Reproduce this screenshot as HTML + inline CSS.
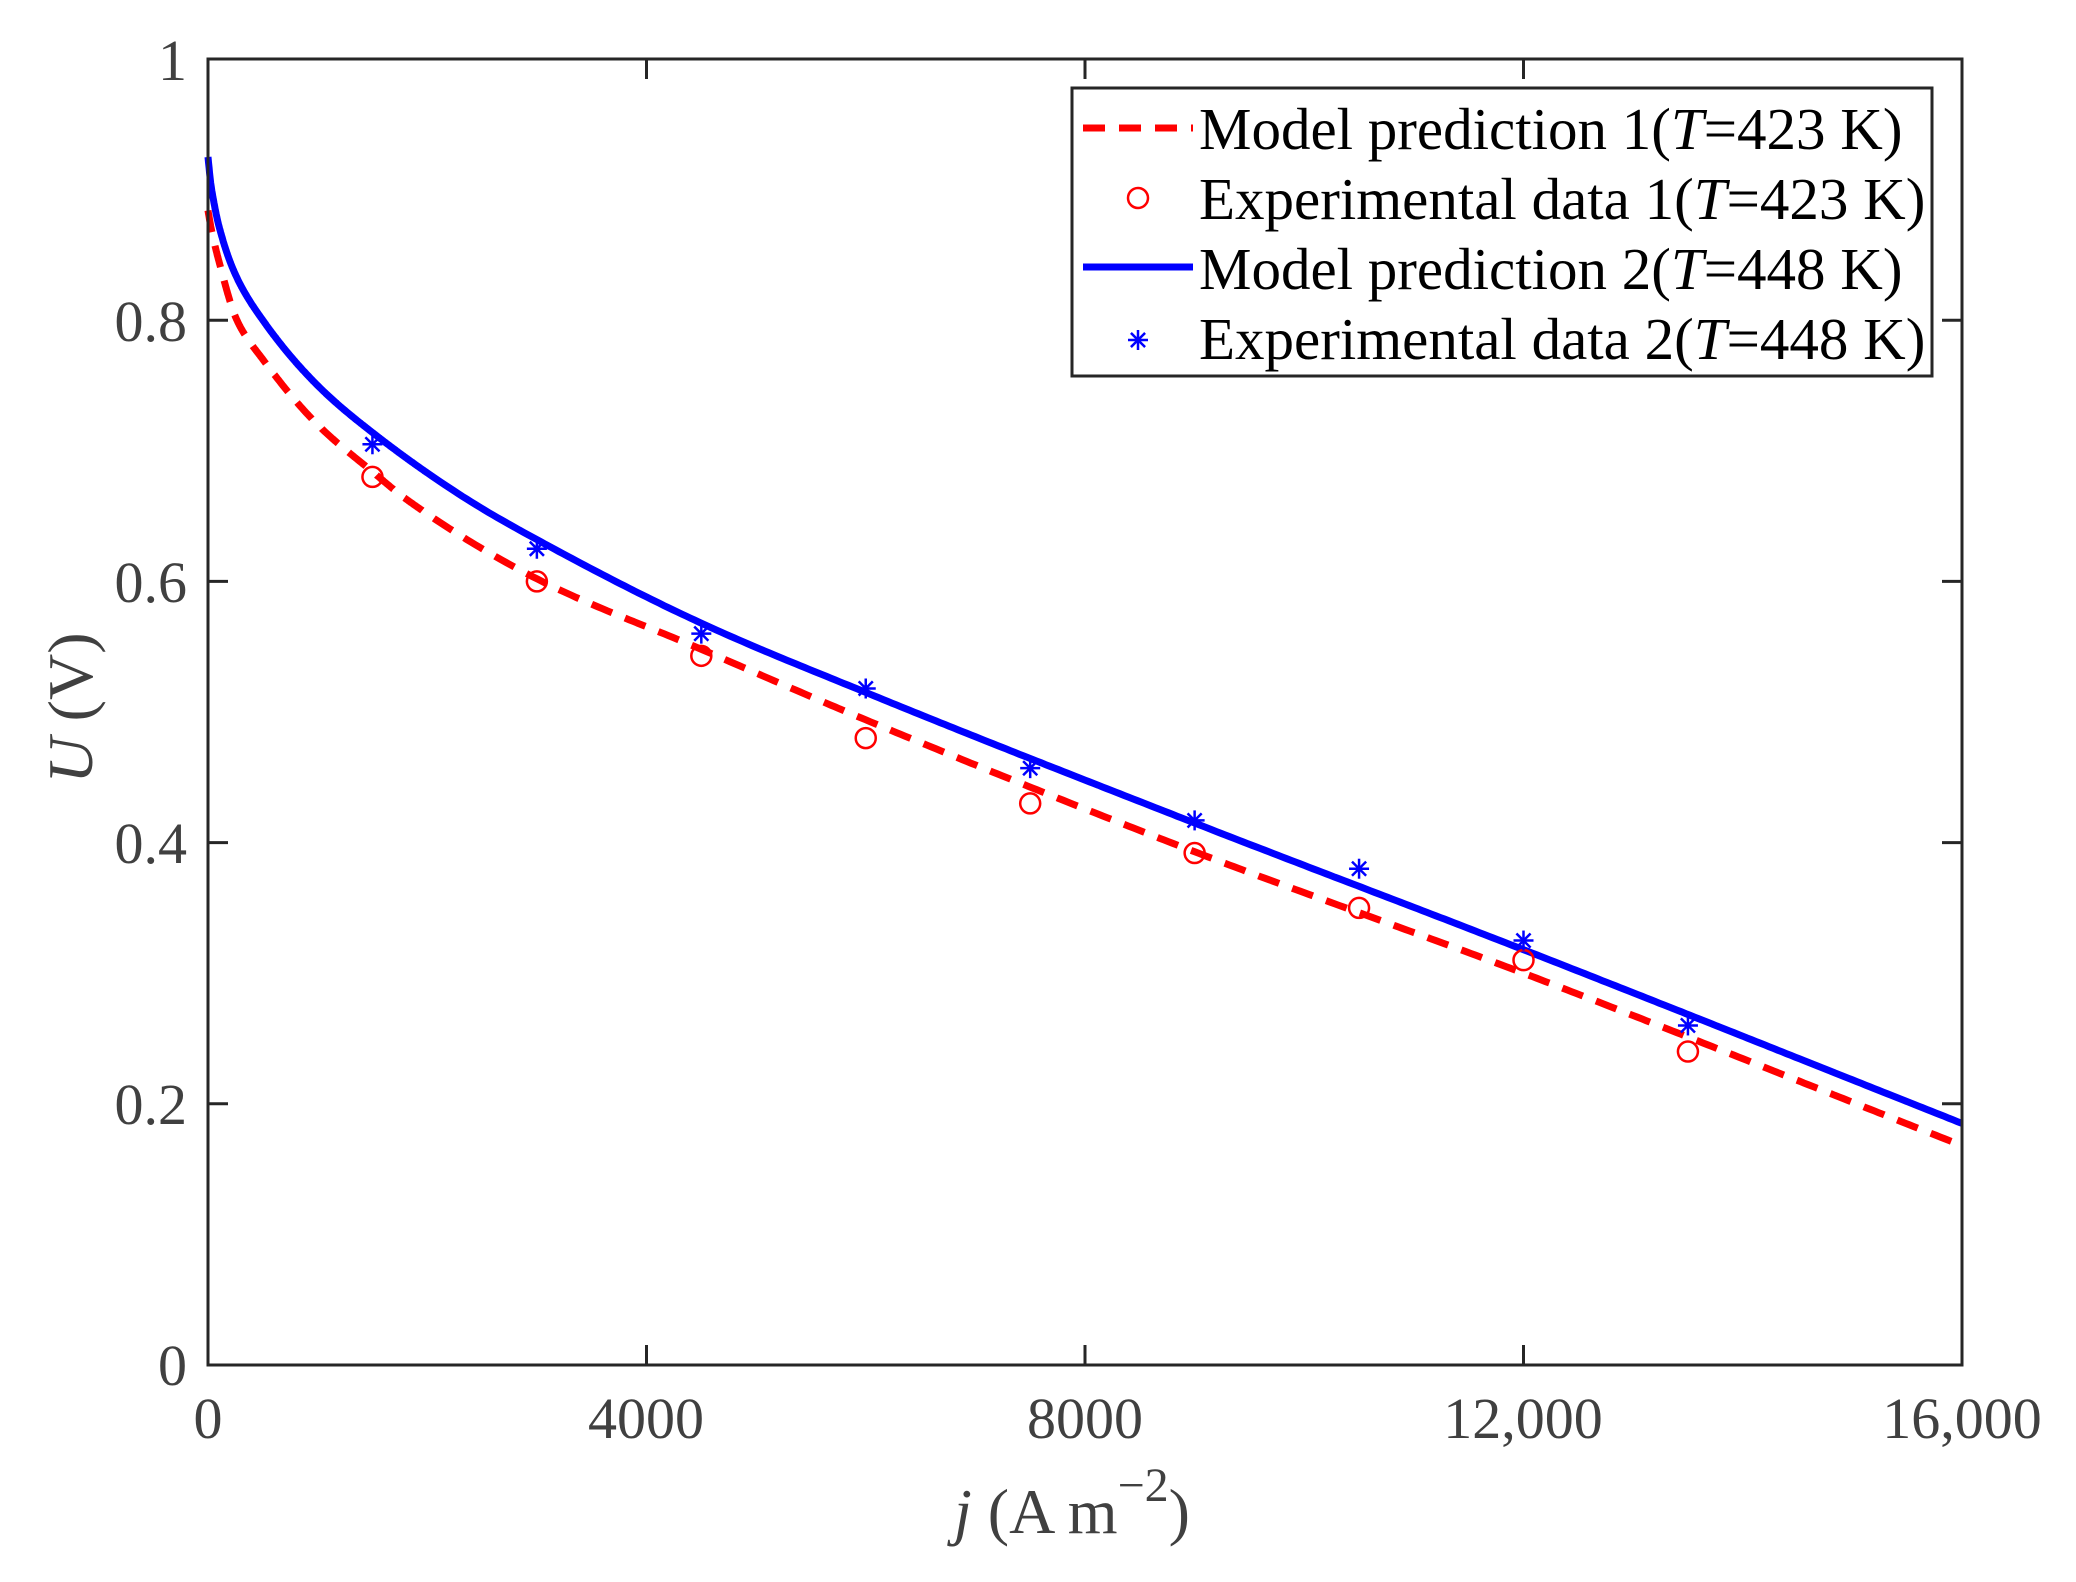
<!DOCTYPE html>
<html><head><meta charset="utf-8"><style>
html,body{margin:0;padding:0;background:#fff;}
svg{display:block;}
text{font-family:"Liberation Serif",serif;}
</style></head><body>
<svg id="s" width="2076" height="1582" viewBox="0 0 2076 1582" xmlns="http://www.w3.org/2000/svg">
<rect width="2076" height="1582" fill="#fff"/>
<g id="plot"></g>
<g stroke="#262626" stroke-width="3" fill="none">
<rect x="208" y="59" width="1754" height="1306"/>
</g>
<g id="ticks" stroke="#262626" stroke-width="3"></g>
<g font-size="58" fill="#404040" text-anchor="end">
<text x="187" y="1385">0</text>
<text x="187" y="1124">0.2</text>
<text x="187" y="863">0.4</text>
<text x="187" y="602">0.6</text>
<text x="187" y="341">0.8</text>
<text x="187" y="80">1</text>
</g>
<g font-size="58" fill="#404040" text-anchor="middle">
<text x="208" y="1438">0</text>
<text x="646" y="1438">4000</text>
<text x="1085" y="1438">8000</text>
<text x="1523" y="1438">12,000</text>
<text x="1962" y="1438">16,000</text>
</g>
<text x="954" y="1533" font-size="64" fill="#404040"><tspan font-style="italic">j</tspan> (A m<tspan dy="-32" font-size="48">−2</tspan><tspan dy="32">)</tspan></text>
<text transform="translate(92,708) rotate(-90)" font-size="64" fill="#404040" text-anchor="middle"><tspan font-style="italic">U</tspan> (V)</text>
<g>
<rect x="1072" y="88" width="860" height="288" fill="#fff" stroke="#262626" stroke-width="3"/>
<line x1="1083" y1="128" x2="1193" y2="128" stroke="#f00" stroke-width="7" stroke-dasharray="22,14"/>
<circle cx="1138" cy="198" r="10" fill="none" stroke="#f00" stroke-width="2.5"/>
<line x1="1083" y1="267" x2="1193" y2="267" stroke="#00f" stroke-width="7"/>
<g id="legstar"></g>
<g font-size="59" fill="#000">
<text x="1199" y="149">Model prediction 1(<tspan font-style="italic">T</tspan>=423 K)</text>
<text x="1199" y="219">Experimental data 1(<tspan font-style="italic">T</tspan>=423 K)</text>
<text x="1199" y="289">Model prediction 2(<tspan font-style="italic">T</tspan>=448 K)</text>
<text x="1199" y="359">Experimental data 2(<tspan font-style="italic">T</tspan>=448 K)</text>
</g>
</g>
</svg>
<script>
var NS="http://www.w3.org/2000/svg";
function X(j){return 208+j/16000*1754;}
function Y(u){return 1365-u*1306;}
function el(p,n,a){var e=document.createElementNS(NS,n);for(var k in a)e.setAttribute(k,a[k]);p.appendChild(e);return e;}
var ticks=document.getElementById('ticks');
[4000,8000,12000].forEach(function(j){var x=X(j);el(ticks,'line',{x1:x,y1:1365,x2:x,y2:1345});el(ticks,'line',{x1:x,y1:59,x2:x,y2:79});});
[0.2,0.4,0.6,0.8].forEach(function(u){var y=Y(u);el(ticks,'line',{x1:208,y1:y,x2:228,y2:y});el(ticks,'line',{x1:1962,y1:y,x2:1942,y2:y});});
function mono(t){var n=t.length,d=[],m=[];for(var i=0;i<n-1;i++)d.push((t[i+1][1]-t[i][1])/(t[i+1][0]-t[i][0]));m[0]=d[0];m[n-1]=d[n-2];for(i=1;i<n-1;i++){if(d[i-1]*d[i]<=0)m[i]=0;else{var h0=t[i][0]-t[i-1][0],h1=t[i+1][0]-t[i][0];var w1=2*h1+h0,w2=h1+2*h0;m[i]=(w1+w2)/(w1/d[i-1]+w2/d[i]);}}
return function(x){var i=0;while(i<n-2&&t[i+1][0]<x)i++;var h=t[i+1][0]-t[i][0],s=(x-t[i][0])/h;var s2=s*s,s3=s2*s;return (2*s3-3*s2+1)*t[i][1]+(s3-2*s2+s)*h*m[i]+(-2*s3+3*s2)*t[i+1][1]+(s3-s2)*h*m[i+1];};}
function interp(t){var f=mono(t),pts=[];for(var j=0;j<=16000;j+=j<2000?5:40){pts.push(X(j).toFixed(1)+','+Y(f(j)).toFixed(1));}return pts.join(' ');}
var blue=[[0,0.925],[25,0.905],[50,0.892],[100,0.872],[250,0.835],[500,0.80],[1000,0.75],[1500,0.714],[2380,0.662],[3000,0.632],[4500,0.568],[6000,0.515],[9000,0.415],[12000,0.318],[16000,0.185]];
var red=[[0,0.884],[25,0.872],[50,0.862],[100,0.845],[264,0.80],[500,0.77],[1000,0.72],[1500,0.684],[1824,0.662],[3000,0.602],[4500,0.548],[6000,0.494],[9000,0.393],[12000,0.300],[16000,0.168]];
var plot=document.getElementById('plot');
el(plot,'polyline',{points:interp(red),fill:'none',stroke:'#f00','stroke-width':7,'stroke-dasharray':'22,14'});
el(plot,'polyline',{points:interp(blue),fill:'none',stroke:'#00f','stroke-width':7});
var rc=[0.68,0.60,0.543,0.48,0.43,0.392,0.35,0.31,0.24];
var bs=[0.705,0.625,0.56,0.518,0.457,0.417,0.38,0.325,0.26];
function star(g,x,y){var r=10;for(var k=0;k<4;k++){var a=k*Math.PI/4;el(g,'line',{x1:x-r*Math.sin(a),y1:y-r*Math.cos(a),x2:x+r*Math.sin(a),y2:y+r*Math.cos(a),stroke:'#00f','stroke-width':2.5});}}
for(var i=0;i<9;i++){var j=1500*(i+1);el(plot,'circle',{cx:X(j),cy:Y(rc[i]),r:10,fill:'none',stroke:'#f00','stroke-width':2.5});star(plot,X(j),Y(bs[i]));}
star(document.getElementById('legstar'),1138,340);
</script>
</body></html>
